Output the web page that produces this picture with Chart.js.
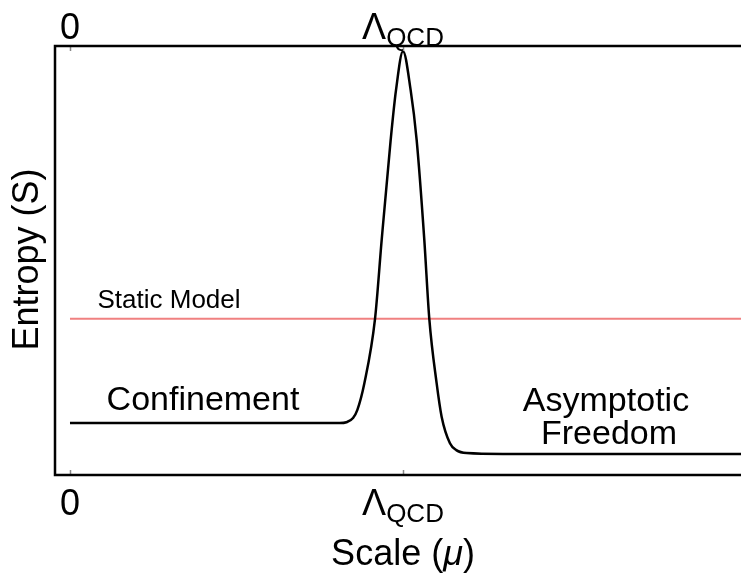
<!DOCTYPE html>
<html>
<head>
<meta charset="utf-8">
<script src="https://cdn.jsdelivr.net/npm/chart.js@4"></script>
<style>
  html, body { margin: 0; padding: 0; background: #fff; }
  #wrap { width: 741px; height: 578px; }
</style>
</head>
<body>
<div id="wrap"><canvas id="myChart" width="741" height="578"></canvas></div>
<script>
// scale values (mu) and entropy
const muValues = [0, 0.81, 0.83, 0.85, 0.863, 0.884, 0.916, 0.936, 0.963, 0.979, 1.0, 1.023, 1.041, 1.064, 1.079, 1.101, 1.116, 1.141, 1.16, 1.191, 1.3, 2.015];
const entropyValues = [0.121, 0.121, 0.123, 0.133, 0.152, 0.214, 0.364, 0.548, 0.781, 0.897, 0.988, 0.897, 0.781, 0.548, 0.364, 0.214, 0.136, 0.074, 0.058, 0.051, 0.049, 0.049];

// static model: flat line
const staticMu = [0, 2.015];
const staticEntropy = [0.364, 0.364];

// tick positions and labels (main text + subscript)
const tickValues = [0, 1];
const tickLabels = [["0", ""], ["\u039B", "QCD"]];

const FONT = "'Liberation Sans', Arial, sans-serif";

const curvePoints = muValues.map((m, i) => ({x: m, y: entropyValues[i]}));
const staticPoints = staticMu.map((m, i) => ({x: m, y: staticEntropy[i]}));

// draws the frame, small ticks, labels and the text notes
const framePlugin = {
  id: 'frame',
  afterDatasetsDraw(chart) {
    const ctx = chart.ctx;
    const a = chart.chartArea;
    const xs = chart.scales.x;
    ctx.save();

    // small grey ticks at top and bottom
    ctx.strokeStyle = '#888';
    ctx.lineWidth = 1.5;
    tickValues.forEach(v => {
      const px = Math.round(xs.getPixelForValue(v)) + 0.5;
      ctx.beginPath();
      ctx.moveTo(px, a.top); ctx.lineTo(px, a.top + 5);
      ctx.moveTo(px, a.bottom); ctx.lineTo(px, a.bottom - 5);
      ctx.stroke();
    });

    // axis lines: left, top, bottom (no right one)
    ctx.strokeStyle = '#000';
    ctx.lineWidth = 2.5;
    ctx.beginPath();
    ctx.moveTo(a.right, a.top);
    ctx.lineTo(a.left, a.top);
    ctx.lineTo(a.left, a.bottom);
    ctx.lineTo(a.right, a.bottom);
    ctx.stroke();

    // tick labels with subscripts
    ctx.fillStyle = '#000';
    ctx.textBaseline = 'alphabetic';
    ctx.textAlign = 'left';
    const drawTick = (v, lab, base) => {
      const px = xs.getPixelForValue(v);
      ctx.font = '36px ' + FONT;
      const w1 = ctx.measureText(lab[0]).width;
      ctx.font = '26px ' + FONT;
      const w2 = lab[1] ? ctx.measureText(lab[1]).width : 0;
      let x0 = px - (w1 + w2) / 2;
      ctx.font = '36px ' + FONT;
      ctx.fillText(lab[0], x0, base);
      if (lab[1]) {
        ctx.font = '26px ' + FONT;
        ctx.fillText(lab[1], x0 + w1, base + 7);
      }
    };
    tickValues.forEach((v, i) => {
      drawTick(v, tickLabels[i], a.bottom + 40);
      drawTick(v, tickLabels[i], a.top - 7);
    });

    // x axis title
    const t1 = 'Scale (', t3 = ')';
    ctx.font = '36px ' + FONT;
    const w1 = ctx.measureText(t1).width;
    const w3 = ctx.measureText(t3).width;
    ctx.font = 'italic 36px ' + FONT;
    const w2 = ctx.measureText('\u03BC').width;
    let xt = xs.getPixelForValue(1) - (w1 + w2 + w3) / 2;
    ctx.font = '36px ' + FONT;
    ctx.fillText(t1, xt, 565);
    ctx.font = 'italic 36px ' + FONT;
    ctx.fillText('\u03BC', xt + w1, 565);
    ctx.font = '36px ' + FONT;
    ctx.fillText(t3, xt + w1 + w2, 565);

    // y axis title
    ctx.save();
    ctx.translate(38, (a.top + a.bottom) / 2 - 1);
    ctx.rotate(-Math.PI / 2);
    ctx.textAlign = 'center';
    ctx.font = '36px ' + FONT;
    ctx.fillText('Entropy (S)', 0, 0);
    ctx.restore();

    // notes
    ctx.textAlign = 'center';
    ctx.font = '26px ' + FONT;
    ctx.fillText('Static Model', 169, 308);
    ctx.font = '34px ' + FONT;
    ctx.fillText('Confinement', 203, 410);
    ctx.fillText('Asymptotic', 606, 411);
    ctx.fillText('Freedom', 609, 444);

    ctx.restore();
  }
};

const myChart = new Chart(document.getElementById('myChart'), {
  type: 'line',
  data: {
    datasets: [
      {
        label: 'Entropy',
        data: curvePoints,
        borderColor: '#000',
        borderWidth: 2.5,
        pointRadius: 0,
        cubicInterpolationMode: 'monotone',
        fill: false
      },
      {
        label: 'Static Model',
        data: staticPoints,
        borderColor: 'rgb(240, 128, 128)',
        borderWidth: 2,
        pointRadius: 0,
        fill: false
      }
    ]
  },
  options: {
    responsive: false,
    animation: false,
    layout: {
      padding: {left: 55, right: 0, top: 46, bottom: 103}
    },
    plugins: {
      legend: {display: false},
      tooltip: {enabled: false}
    },
    scales: {
      x: {type: 'linear', min: -0.045, max: 2.015, display: false},
      y: {type: 'linear', min: 0, max: 1, display: false}
    }
  },
  plugins: [framePlugin]
});
</script>
</body>
</html>
